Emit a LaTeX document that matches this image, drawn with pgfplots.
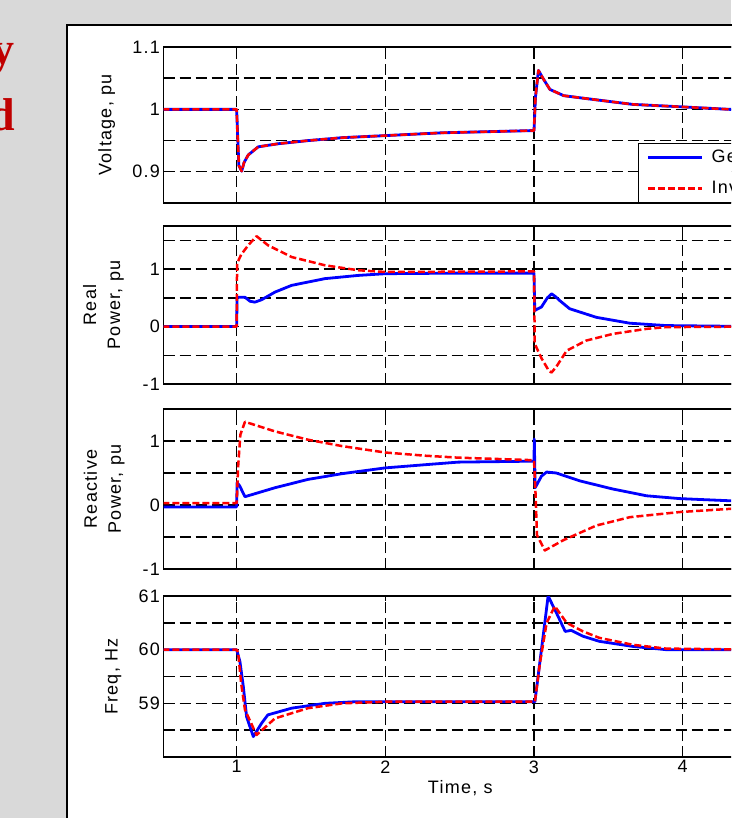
\documentclass[border=0pt]{standalone}
\usepackage{fontspec}
\setmainfont{Liberation Sans}[LetterSpace=7]
\newfontfamily\serifbold{Liberation Serif}[BoldFont={Liberation Serif Bold}]
\usepackage{pgfplots}
\pgfplotsset{compat=1.18}
\definecolor{bggray}{RGB}{217,217,217}
\definecolor{titlered}{RGB}{192,0,0}
\pgfplotsset{
  panel/.style={
    scale only axis, width=593.5pt,
    xmin=0.508, xmax=4.5,
    xtick={1,2,3,4},
    grid=both,
    major grid style={black, line width=1.4pt, dash pattern=on 11pt off 5pt},
    minor grid style={black, line width=1.4pt, dash pattern=on 11pt off 5pt},
    tick align=inside, major tick length=5pt, minor tick length=5pt,
    axis line style={line width=1.6pt},
    every tick/.style={black, line width=1.2pt},
    /pgf/number format/assume math mode=true,
    tick label style={font=\fontsize{18}{21}\selectfont},
    label style={font=\fontsize{18}{24}\selectfont},
    clip=true,
  },
  gen/.style={blue, line width=2.8pt, line join=round},
  inv/.style={red, line width=2.5pt, dash pattern=on 7pt off 3pt, line join=round},
}
\begin{document}
\begin{tikzpicture}[x=1pt,y=1pt]
\useasboundingbox (0,0) rectangle (731,-818);
\fill[bggray] (0,0) rectangle (731,-818);
\fill[white] (67,-25) rectangle (780,-840);
\draw[black, line width=1.8pt] (67,-840) -- (67,-25) -- (780,-25);
\clip (0,0) rectangle (731,-818);
\node[anchor=base east, inner sep=0pt, text=titlered, font=\serifbold\bfseries\fontsize{46}{46}\selectfont] at (14.5,-65) {y};
\node[anchor=base east, inner sep=0pt, text=titlered, font=\serifbold\bfseries\fontsize{46}{46}\selectfont] at (15,-131) {d};

% Panel 1: Voltage
\begin{axis}[panel, at={(163.5pt,-47pt)}, anchor=north west, height=156pt,
  ymin=0.85, ymax=1.1, ytick={0.9,1,1.1}, minor ytick={0.95,1.05},
  xticklabels={},
  ylabel={Voltage, pu},
  ylabel style={at={(axis description cs:-0.0957,0.5)}, anchor=center, rotate=0},
  legend style={at={(0.7995,0)}, anchor=south west, draw=black, line width=1.4pt,
    font=\fontsize{18}{21}\selectfont, fill=white, inner xsep=8pt, inner ysep=4pt, row sep=11pt,
    nodes={inner sep=3pt}, /tikz/every odd column/.style={column sep=5pt}},
  legend cell align=left,
  legend image code/.code={\draw[#1] (0pt,0pt) -- (54pt,0pt);},
]
\addplot[gen] coordinates {(0.5,1.0)(1.0,1.0)(1.008,0.95)(1.015,0.91)(1.034,0.901)(1.05,0.915)(1.078,0.927)(1.145,0.940)(1.28,0.945)(1.48,0.950)(1.71,0.9547)(2.0,0.958)(2.38,0.9625)(2.98,0.966)(3.0,0.966)(3.01,1.02)(3.03,1.0625)(3.06,1.05)(3.107,1.032)(3.2,1.022)(3.33,1.018)(3.665,1.008)(4.0,1.004)(4.32,1.0)(4.5,1.0)};
\addlegendentry{Gen}
\addplot[inv] coordinates {(0.5,1.0)(1.0,1.0)(1.008,0.95)(1.015,0.91)(1.034,0.901)(1.05,0.915)(1.078,0.927)(1.145,0.940)(1.28,0.945)(1.48,0.950)(1.71,0.9547)(2.0,0.958)(2.38,0.9625)(2.98,0.966)(3.0,0.966)(3.01,1.02)(3.03,1.0625)(3.06,1.05)(3.107,1.032)(3.2,1.022)(3.33,1.018)(3.665,1.008)(4.0,1.004)(4.32,1.0)(4.5,1.0)};
\addlegendentry{Inv}
\end{axis}

% Panel 2: Real power
\begin{axis}[panel, at={(163.5pt,-226pt)}, anchor=north west, height=158pt,
  ymin=-1, ymax=1.75, ytick={-1,0,1}, minor ytick={-0.5,0.5,1.5},
  xticklabels={},
  ylabel={Real\\Power, pu},
  ylabel style={at={(axis description cs:-0.1013,0.5)}, anchor=center, rotate=0, align=center},
]
\addplot[gen] coordinates {(0.5,0)(1.0,0)(1.003,0.51)(1.056,0.51)(1.09,0.44)(1.123,0.425)(1.168,0.467)(1.258,0.60)(1.37,0.717)(1.594,0.834)(1.818,0.89)(2.0,0.92)(2.5,0.93)(3.0,0.93)(3.005,0.28)(3.05,0.34)(3.09,0.50)(3.118,0.57)(3.145,0.52)(3.174,0.45)(3.24,0.31)(3.42,0.16)(3.645,0.058)(3.89,0.017)(4.5,0)};
\addplot[inv] coordinates {(0.5,0)(1.0,0)(1.003,1.10)(1.03,1.25)(1.078,1.416)(1.134,1.573)(1.21,1.416)(1.37,1.21)(1.594,1.066)(1.818,0.98)(2.0,0.95)(2.5,0.955)(3.0,0.96)(3.005,-0.3)(3.05,-0.55)(3.1,-0.77)(3.118,-0.80)(3.15,-0.70)(3.22,-0.42)(3.35,-0.245)(3.53,-0.128)(3.757,-0.04)(3.89,-0.01)(4.5,0)};
\end{axis}

% Panel 3: Reactive power
\begin{axis}[panel, at={(163.5pt,-409pt)}, anchor=north west, height=160pt,
  ymin=-1, ymax=1.5, ytick={-1,0,1}, minor ytick={-0.5,0.5},
  xticklabels={},
  ylabel={Reactive\\Power, pu},
  ylabel style={at={(axis description cs:-0.0997,0.5)}, anchor=center, rotate=0, align=center},
]
\addplot[gen] coordinates {(0.5,-0.03)(1.0,-0.03)(1.003,0.35)(1.02,0.3)(1.056,0.13)(1.258,0.27)(1.48,0.40)(1.71,0.49)(2.0,0.58)(2.27,0.63)(2.49,0.67)(3.0,0.685)(3.002,1.03)(3.008,0.27)(3.05,0.45)(3.085,0.515)(3.15,0.50)(3.31,0.376)(3.53,0.25)(3.757,0.144)(3.98,0.10)(4.32,0.066)(4.5,0.06)};
\addplot[inv] coordinates {(0.5,0.03)(1.0,0.03)(1.01,0.6)(1.025,1.1)(1.056,1.30)(1.258,1.15)(1.48,1.02)(1.71,0.92)(2.0,0.82)(2.27,0.77)(2.49,0.74)(3.0,0.70)(3.01,0.2)(3.02,-0.47)(3.073,-0.71)(3.197,-0.55)(3.42,-0.32)(3.645,-0.19)(3.98,-0.11)(4.32,-0.06)(4.5,-0.05)};
\end{axis}

% Panel 4: Frequency
\begin{axis}[panel, at={(163.5pt,-596pt)}, anchor=north west, height=161pt,
  ymin=58, ymax=61, ytick={59,60,61}, minor ytick={58.5,59.5,60.5},
  xlabel={Time, s},
  ylabel={Freq, Hz},
  ylabel style={at={(axis description cs:-0.0846,0.5)}, anchor=center, rotate=0},
]
\addplot[gen] coordinates {(0.5,60)(1.0,60)(1.022,59.78)(1.045,59.31)(1.067,58.75)(1.112,58.38)(1.168,58.63)(1.21,58.785)(1.37,58.91)(1.594,59.0)(1.8,59.03)(3.0,59.03)(3.006,59.03)(3.05,60.0)(3.095,61.0)(3.15,60.69)(3.21,60.34)(3.25,60.36)(3.33,60.25)(3.44,60.155)(3.667,60.06)(3.89,60.0)(4.5,60.0)};
\addplot[inv] coordinates {(0.5,60)(1.0,60)(1.01,59.95)(1.03,59.38)(1.056,58.88)(1.134,58.41)(1.258,58.72)(1.48,58.91)(1.71,59.0)(2.0,59.03)(3.0,59.03)(3.006,59.03)(3.04,59.75)(3.085,60.5)(3.14,60.81)(3.22,60.5)(3.33,60.34)(3.44,60.22)(3.667,60.09)(3.89,60.02)(4.5,60.0)};
\end{axis}
\end{tikzpicture}
\end{document}
